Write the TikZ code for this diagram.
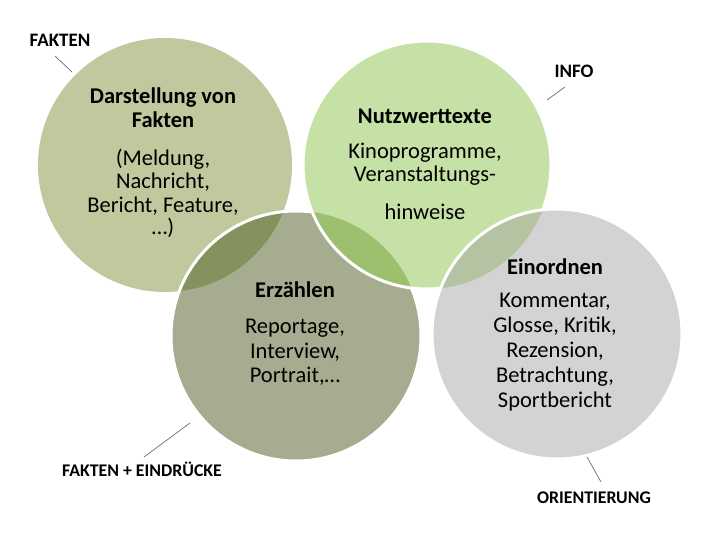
\documentclass[tikz,border=0pt]{standalone}
\usepackage{fontspec}
\setmainfont{Carlito}
\definecolor{cA}{HTML}{C0C99E}
\definecolor{cB}{HTML}{C6E1A6}
\definecolor{cC}{HTML}{A6AC8F}
\definecolor{cD}{HTML}{D3D3D3}
\definecolor{oAC}{HTML}{84925E}
\definecolor{oBC}{HTML}{9DC06F}
\definecolor{oBD}{HTML}{B5C3A3}
\definecolor{lineC}{HTML}{5B6F82}
\begin{document}
\begin{tikzpicture}[x=1pt,y=-1pt,
  body/.style={anchor=base,inner sep=0pt,font=\fontsize{22.5}{23}\selectfont},
  head/.style={body,font=\fontsize{22.5}{23}\selectfont\bfseries},
  lab/.style={anchor=base,inner sep=0pt,font=\fontsize{19}{20}\selectfont\bfseries},
  labs/.style={anchor=base,inner sep=0pt,font=\fontsize{17.8}{20}\selectfont\bfseries},
  rim/.style={white,line width=3pt},
  pointer/.style={lineC,line width=0.7pt}]
\useasboundingbox (0,0) rectangle (720,540);
\coordinate (C1) at (165,165);
\coordinate (C2) at (427,165);
\coordinate (C3) at (296,336);
\coordinate (C4) at (557,334);
% circle 1
\fill[cA] (C1) circle (127pt);
% circle 3
\fill[cC] (C3) circle (125pt);
\begin{scope}
  \clip (C1) circle (127pt);
  \fill[oAC] (C3) circle (125pt);
\end{scope}
\draw[rim] (C3) circle (125pt);
% circle 2
\fill[cB] (C2) circle (124pt);
\begin{scope}
  \clip (C3) circle (125pt);
  \fill[oBC] (C2) circle (124pt);
\end{scope}
\draw[rim] (C2) circle (124pt);
% circle 4
\fill[cD] (C4) circle (125pt);
\begin{scope}
  \clip (C2) circle (124pt);
  \fill[oBD] (C4) circle (125pt);
\end{scope}
\draw[rim] (C4) circle (125pt);
% texts circle 1
\node[head] (a1) at (163,104) {Darstellung von};
\node[head] (a2) at (163,128) {Fakten};
\node[body] (a3) at (163,166) {(Meldung,};
\node[body] (a4) at (163,189) {Nachricht,};
\node[body] (a5) at (163,212) {Bericht, Feature,};
\node[body] (a6) at (163,234) {…)};
% texts circle 2
\node[head] (b1) at (425,124) {Nutzwerttexte};
\node[body] (b2) at (425,159) {Kinoprogramme,};
\node[body] (b3) at (425,182) {Veranstaltungs-};
\node[body] (b4) at (425,219) {hinweise};
% texts circle 3
\node[head] (c1) at (295,297) {Erzählen};
\node[body] (c2) at (295,333) {Reportage,};
\node[body] (c3) at (295,358) {Interview,};
\node[body] (c4) at (295,382) {Portrait,…};
% texts circle 4
\node[head] (d1) at (555,274) {Einordnen};
\node[body] (d2) at (555,307) {Kommentar,};
\node[body] (d3) at (555,332) {Glosse, Kritik,};
\node[body] (d4) at (555,357) {Rezension,};
\node[body] (d5) at (555,382) {Betrachtung,};
\node[body] (d6) at (555,407) {Sportbericht};
% outer labels
\node[lab] (lF) at (60,47) {FAKTEN};
\node[lab] (lI) at (574,78) {INFO};
\node[labs] (lE) at (142,476) {FAKTEN + EINDRÜCKE};
\node[labs] (lO) at (594,503) {ORIENTIERUNG};
\coordinate (pF1) at (55,56);
\coordinate (pF2) at (72,72);
\coordinate (pI1) at (565,87);
\coordinate (pI2) at (547,100);
\coordinate (pE1) at (144,457);
\coordinate (pE2) at (190,423);
\coordinate (pO1) at (587,457);
\coordinate (pO2) at (601,482);
\draw[pointer] (pF1) -- (pF2);
\draw[pointer] (pI1) -- (pI2);
\draw[pointer] (pE1) -- (pE2);
\draw[pointer] (pO1) -- (pO2);
\end{tikzpicture}
\end{document}
